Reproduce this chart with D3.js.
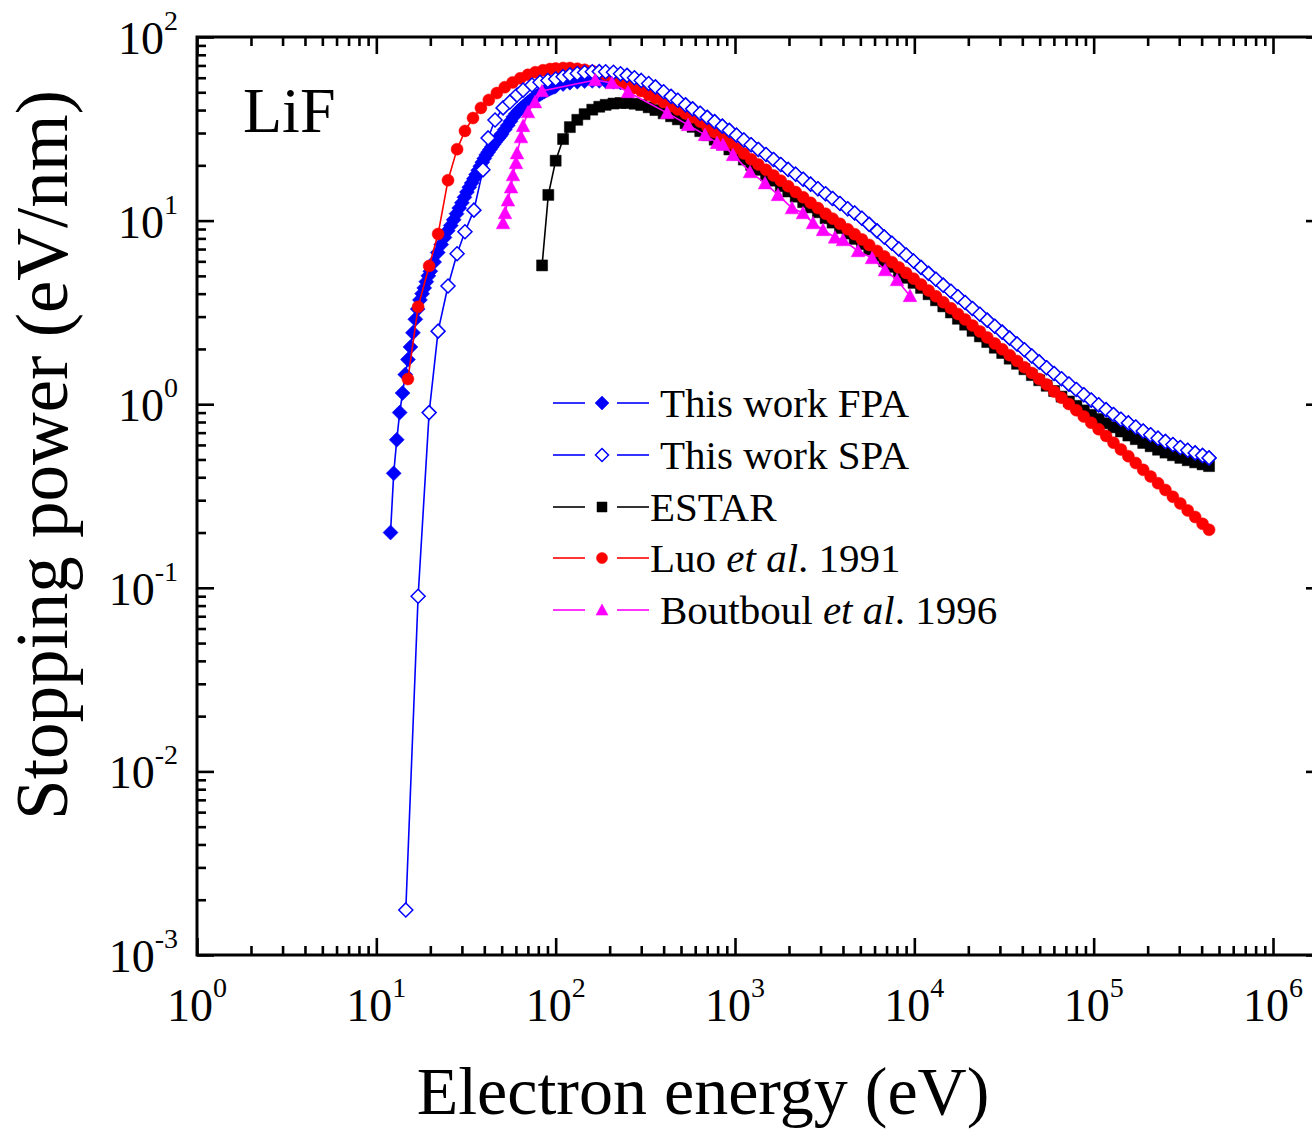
<!DOCTYPE html>
<html><head><meta charset="utf-8">
<script src="https://cdn.jsdelivr.net/npm/d3@7"></script>
<style>
body{margin:0;background:#fff}
svg{display:block}
text{font-family:"Liberation Serif","Times New Roman",serif;fill:#000}
</style>
</head><body>
<svg id="c" width="1312" height="1130"></svg>
<script>
// ---------------- DATA (electron energy in eV, stopping power in eV/nm) ----------------
const gridEnergy = [
  100, 110, 120, 132, 145, 160, 175, 190, 210, 230,
  250, 275, 300, 330, 360, 400, 440, 480, 530, 580,
  640, 700, 770, 850, 930, 1020, 1120, 1230, 1350, 1490,
  1640, 1800, 1980, 2180, 2400, 2640, 2900, 3200, 3500, 3850,
  4250, 4650, 5100, 5600, 6200, 6800, 7500, 8200, 9000, 9900,
  10900, 12000, 13200, 14500, 16000, 17500, 19200, 21100, 23200, 25500,
  28100, 30900, 34000, 37400, 41100, 45200, 49700, 54700, 60200, 66200,
  72800, 80100, 88100, 96900, 106600, 117300, 129000, 141900, 156100, 171700,
  188900, 207800, 228600, 251400, 276600, 304200, 334600, 368100, 404900, 440000
];

// This work FPA
const fpaLowEnergy = [12, 12.5, 13, 13.5, 14, 14.5, 15, 15.5, 16, 16.5, 17, 17.5, 18, 18.5, 19, 19.5, 20,
  21, 22, 23, 24, 25, 26, 27, 28, 29, 30, 31, 32, 33, 34, 35, 36, 37, 38, 39, 40,
  41, 42, 43, 44, 45, 46, 47, 48, 49, 50, 52, 54, 56, 58, 60, 62, 64, 66, 68, 70,
  72, 74, 76, 78, 80, 82, 84, 86, 88, 90, 92, 94, 96, 98];
const fpaLowValue = [0.20, 0.42, 0.64, 0.90, 1.15, 1.45, 1.75, 2.05, 2.45, 2.90, 3.30, 3.70, 4.00, 4.30, 4.65, 5.00, 5.30,
  5.95, 6.70, 7.40, 8.10, 8.80, 9.40, 10.1, 10.9, 11.7, 12.5, 13.4, 14.3, 15.2, 16.0, 16.9, 17.8, 18.8, 19.8, 20.8, 21.8,
  22.8, 23.6, 24.4, 25.2, 26.0, 26.8, 27.5, 28.2, 28.9, 29.6, 31.3, 33.0, 34.8, 36.7, 38.2, 39.6, 40.8, 41.8, 42.9, 44.0,
  45.0, 45.9, 46.7, 47.4, 48.2, 49.0, 49.7, 50.4, 51.0, 51.6, 52.2, 52.7, 53.2, 53.6];
const fpaGridValue = [
  54.0, 55.4, 56.4, 57.1, 57.5, 57.7, 57.7, 57.5, 57.1, 56.5,
  55.8, 54.9, 53.9, 52.7, 51.3, 49.6, 47.3, 45.2, 42.7, 40.6,
  38.4, 36.5, 34.6, 32.7, 31.0, 29.2, 27.5, 25.9, 24.4, 22.9,
  21.5, 20.2, 19.0, 17.9, 16.8, 15.8, 14.9, 14.0, 13.2, 12.4,
  11.6, 11.0, 10.3, 9.54, 8.79, 8.15, 7.53, 7.01, 6.50, 6.02,
  5.56, 5.16, 4.79, 4.45, 4.12, 3.85, 3.58, 3.32, 3.09, 2.87,
  2.66, 2.47, 2.29, 2.13, 1.98, 1.83, 1.70, 1.58, 1.47, 1.375,
  1.287, 1.203, 1.126, 1.053, 0.992, 0.934, 0.879, 0.828, 0.791, 0.751,
  0.715, 0.682, 0.653, 0.627, 0.603, 0.581, 0.561, 0.543, 0.526, 0.510
];

// This work SPA
const spaLowEnergy = [14.6, 17.1, 19.7, 22.1, 25.1, 28.2, 31.2, 35.0, 39.3, 42.0, 45.9, 50.9, 55.6, 60.9, 65.8, 73.8, 81.8, 90.5];
const spaLowValue  = [0.00176, 0.090, 0.90, 2.5, 4.4, 6.6, 8.7, 11.4, 18.9, 28.2, 35.3, 41.1, 44.3, 48.3, 51.4, 54.8, 56.7, 58.0];
const spaGridValue = [
  59.0, 60.8, 62.2, 63.3, 64.1, 64.6, 64.8, 64.7, 64.2, 63.0,
  61.8, 60.0, 58.0, 55.8, 53.5, 50.3, 47.5, 45.2, 42.7, 40.6,
  38.4, 36.5, 34.6, 32.7, 31.0, 29.2, 27.5, 25.9, 24.4, 22.9,
  21.5, 20.2, 19.0, 17.9, 16.8, 15.8, 14.9, 14.0, 13.2, 12.4,
  11.6, 11.0, 10.3, 9.54, 8.79, 8.15, 7.53, 7.01, 6.50, 6.02,
  5.56, 5.16, 4.79, 4.45, 4.12, 3.85, 3.58, 3.32, 3.09, 2.87,
  2.66, 2.47, 2.29, 2.13, 1.98, 1.83, 1.70, 1.58, 1.47, 1.375,
  1.287, 1.203, 1.126, 1.053, 0.992, 0.934, 0.879, 0.828, 0.791, 0.751,
  0.715, 0.682, 0.653, 0.627, 0.603, 0.581, 0.561, 0.543, 0.526, 0.510
];

// ESTAR
const estarLowEnergy = [84, 91];
const estarLowValue  = [5.7, 13.8];
const estarGridValue = [
  21.2, 27.8, 32.3, 35.4, 38.0, 40.2, 41.7, 42.7, 43.4, 43.7,
  43.7, 43.3, 42.6, 41.4, 40.0, 38.4, 37.0, 35.6, 33.9, 32.4,
  30.7, 29.2, 27.6, 26.0, 24.4, 22.9, 21.5, 20.1, 18.9, 17.6,
  16.5, 15.4, 14.4, 13.5, 12.6, 11.8, 11.1, 10.3, 9.75, 9.1,
  8.5, 7.95, 7.45, 6.95, 6.45, 6.0, 5.6, 5.2, 4.88, 4.58,
  4.30, 3.97, 3.68, 3.41, 3.16, 2.92, 2.71, 2.51, 2.34, 2.18,
  2.03, 1.90, 1.77, 1.66, 1.55, 1.44, 1.35, 1.26, 1.18, 1.10,
  1.035, 0.98, 0.925, 0.875, 0.83, 0.787, 0.748, 0.71, 0.675, 0.645,
  0.615, 0.59, 0.565, 0.545, 0.527, 0.51, 0.495, 0.482, 0.47, 0.46
];

// Luo et al. 1991
const luoLowEnergy = [15.0, 17.1, 19.7, 22.1, 25.1, 28.2, 31.2, 34.6, 38.3, 42.4, 47.0, 52.0, 57.5, 63.5, 70.0, 77.0, 85.0, 93.0];
const luoLowValue  = [1.37, 3.39, 5.66, 8.45, 16.6, 24.5, 30.8, 36.2, 41.1, 45.4, 49.5, 53.3, 56.6, 59.6, 62.2, 64.3, 65.9, 66.9];
const luoGridValue = [
  67.4, 67.8, 67.8, 67.2, 66.3, 65.3, 63.8, 62.2, 59.8, 57.3,
  55.1, 52.8, 50.8, 48.5, 46.5, 44.2, 42.1, 40.3, 38.3, 36.6,
  34.6, 32.5, 30.3, 28.2, 26.5, 24.8, 23.2, 21.6, 20.2, 18.9,
  17.6, 16.5, 15.4, 14.3, 13.4, 12.5, 11.7, 10.9, 10.25, 9.60,
  8.97, 8.43, 7.90, 7.37, 6.84, 6.38, 5.94, 5.56, 5.19, 4.83,
  4.49, 4.16, 3.87, 3.59, 3.33, 3.10, 2.89, 2.68, 2.49, 2.31,
  2.14, 1.99, 1.85, 1.72, 1.59, 1.48, 1.37, 1.28, 1.171, 1.084,
  1.002, 0.927, 0.857, 0.793, 0.731, 0.672, 0.617, 0.567, 0.521, 0.478,
  0.439, 0.404, 0.371, 0.341, 0.313, 0.288, 0.264, 0.243, 0.223, 0.207
];

// Boutboul et al. 1996
const boutboulEnergy = [50.9, 52.2, 54.2, 56.4, 57.8, 60.1, 60.9, 64.1, 65.8, 70.1, 76.7, 83.9, 166, 206, 253, 418, 547, 680,
  794, 857, 975, 1213, 1470, 1737, 2079, 2394, 2723, 3097, 3612, 4003, 4853, 5808, 6863, 8008, 9461];
const boutboulValue  = [9.7, 11.0, 12.9, 15.2, 17.7, 20.6, 23.3, 28.5, 32.8, 39.0, 44.2, 50.8, 58.3, 56.2, 50.2, 38.6, 33.2, 29.3,
  26.5, 25.9, 22.8, 18.4, 16.0, 13.8, 11.7, 11.0, 9.7, 8.9, 8.1, 7.84, 6.83, 6.26, 5.38, 4.75, 3.89];

const xTickExponents = ["0", "1", "2", "3", "4", "5", "6"];
const yTickExponents = ["-3", "-2", "-1", "0", "1", "2"];
const legendLabels = ["This work FPA", "This work SPA", "ESTAR", "Luo", "Boutboul"];

// ---------------- CHART ----------------
const svg = d3.select('#c');
const L = 197, R = 1323, T = 37, B = 955;
const x = d3.scaleLog().domain([1, 1e6]).range([197, 1273]);
const y = d3.scaleLog().domain([1e-3, 1e2]).range([955, 37]);

const xMajor = xTickExponents.map(e => Math.pow(10, +e));
const yMajor = yTickExponents.map(e => Math.pow(10, +e));
const xMinor = [], yMinor = [];
for (let k = 0; k <= 6; k++) for (let m = 2; m <= 9; m++) { const v = m * Math.pow(10, k); if (x(v) < R - 2) xMinor.push(v); }
for (let k = -3; k < 2; k++) for (let m = 2; m <= 9; m++) yMinor.push(m * Math.pow(10, k));

function styleAxis(g) { g.select('.domain').remove(); g.selectAll('line').attr('stroke', '#000').attr('stroke-width', 2.6); }
const MAJ = 17, MIN = 9;
[[d3.axisBottom, B, xMajor, MAJ], [d3.axisBottom, B, xMinor, MIN], [d3.axisTop, T, xMajor, MAJ], [d3.axisTop, T, xMinor, MIN]].forEach(([ax, pos, vals, sz]) => {
  svg.append('g').attr('transform', `translate(0,${pos})`).call(ax(x).tickValues(vals).tickSize(-sz).tickFormat('')).call(styleAxis);
});
[[d3.axisLeft, L, yMajor, MAJ], [d3.axisLeft, L, yMinor, MIN], [d3.axisRight, R, yMajor, MAJ], [d3.axisRight, R, yMinor, MIN]].forEach(([ax, pos, vals, sz]) => {
  svg.append('g').attr('transform', `translate(${pos},0)`).call(ax(y).tickValues(vals).tickSize(-sz).tickFormat('')).call(styleAxis);
});
svg.append('rect').attr('x', L).attr('y', T).attr('width', R - L).attr('height', B - T)
  .attr('fill', 'none').attr('stroke', '#000').attr('stroke-width', 3);

// tick labels
xTickExponents.forEach(e => {
  const t = svg.append('text').attr('x', x(Math.pow(10, +e))).attr('y', 1021).attr('text-anchor', 'middle').attr('font-size', 46).text('10');
  t.append('tspan').attr('font-size', 28).attr('dy', -24).text(e);
});
yTickExponents.forEach(e => {
  const t = svg.append('text').attr('x', 178).attr('y', y(Math.pow(10, +e)) + 17).attr('text-anchor', 'end').attr('font-size', 46).text('10');
  t.append('tspan').attr('font-size', 28).attr('dy', -24).text(e);
});

// axis titles
svg.append('text').attr('x', 703).attr('y', 1114).attr('text-anchor', 'middle').attr('font-size', 68).text('Electron energy (eV)');
svg.append('text').attr('transform', 'translate(67,455) rotate(-90)').attr('text-anchor', 'middle').attr('font-size', 73).text('Stopping power (eV/nm)');
svg.append('text').attr('x', 243).attr('y', 132).attr('font-size', 64).text('LiF');

// symbols
const sym = {
  diamond: s => `M0,${-s}L${s},0L0,${s}L${-s},0Z`,
  square: s => `M${-s},${-s}h${2 * s}v${2 * s}h${-2 * s}Z`,
  triangle: s => `M0,${-s}L${s},${s * 0.85}L${-s},${s * 0.85}Z`,
  circle: s => `M${-s},0a${s},${s} 0 1,0 ${2 * s},0a${s},${s} 0 1,0 ${-2 * s},0Z`
};

const series = [
  { key: 'estar', data: d3.zip(estarLowEnergy.concat(gridEnergy), estarLowValue.concat(estarGridValue)), color: '#000000', shape: 'square', size: 5.5, lsize: 5, fill: '#000000' },
  { key: 'fpa', data: d3.zip(fpaLowEnergy.concat(gridEnergy), fpaLowValue.concat(fpaGridValue)), color: '#0000ff', shape: 'diamond', size: 7.5, lsize: 7, fill: '#0000ff' },
  { key: 'luo', data: d3.zip(luoLowEnergy.concat(gridEnergy), luoLowValue.concat(luoGridValue)), color: '#ff0000', shape: 'circle', size: 6, lsize: 5.5, fill: '#ff0000' },
  { key: 'spa', data: d3.zip(spaLowEnergy.concat(gridEnergy), spaLowValue.concat(spaGridValue)), color: '#0000ff', shape: 'diamond', size: 7, lsize: 6.5, fill: '#ffffff' },
  { key: 'bout', data: d3.zip(boutboulEnergy, boutboulValue), color: '#ff00ff', shape: 'triangle', size: 6.8, lsize: 6, fill: '#ff00ff' }
];

const line = d3.line().x(d => x(d[0])).y(d => y(d[1]));
series.forEach(s => {
  const g = svg.append('g');
  g.append('path').datum(s.data).attr('d', line).attr('fill', 'none').attr('stroke', s.color).attr('stroke-width', 1.6);
  g.selectAll('path.m').data(s.data).join('path').attr('class', 'm')
    .attr('transform', d => `translate(${x(d[0])},${y(d[1])})`)
    .attr('d', sym[s.shape](s.size))
    .attr('fill', s.fill).attr('stroke', s.color).attr('stroke-width', s.fill === '#ffffff' ? 1.5 : 0.5);
});

// legend
const legendOrder = ['fpa', 'spa', 'estar', 'luo', 'bout'];
const legendY = [403, 455, 507, 558, 610];
const legendTextX = [660, 660, 650, 650, 660];
legendOrder.forEach((k, i) => {
  const s = series.find(d => d.key === k);
  const cy = legendY[i];
  svg.append('line').attr('x1', 553).attr('x2', 585).attr('y1', cy).attr('y2', cy).attr('stroke', s.color).attr('stroke-width', 1.6);
  svg.append('line').attr('x1', 617).attr('x2', 649).attr('y1', cy).attr('y2', cy).attr('stroke', s.color).attr('stroke-width', 1.6);
  svg.append('path').attr('transform', `translate(602,${cy})`).attr('d', sym[s.shape](s.lsize))
    .attr('fill', s.fill).attr('stroke', s.color).attr('stroke-width', s.fill === '#ffffff' ? 1.5 : 0.5);
  const t = svg.append('text').attr('x', legendTextX[i]).attr('y', cy + 14).attr('font-size', 41);
  if (k === 'luo') {
    t.append('tspan').text('Luo ');
    t.append('tspan').attr('font-style', 'italic').text('et al');
    t.append('tspan').text('. 1991');
  } else if (k === 'bout') {
    t.append('tspan').text('Boutboul ');
    t.append('tspan').attr('font-style', 'italic').text('et al');
    t.append('tspan').text('. 1996');
  } else {
    t.text(legendLabels[i]);
  }
});
</script>
</body></html>
